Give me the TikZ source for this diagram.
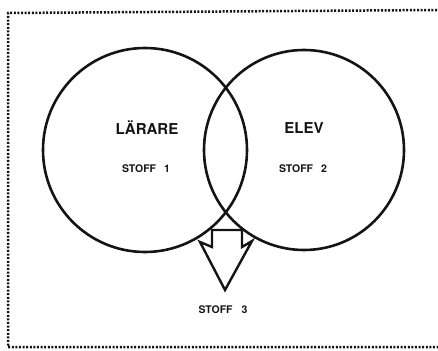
\documentclass[tikz,border=0pt]{standalone}
\usepackage{fontspec}
\setmainfont{TeX Gyre Heros}
\usetikzlibrary{positioning}
\definecolor{ink}{RGB}{20,20,20}

\begin{document}
\begin{tikzpicture}[x=1pt,y=-1pt,
  ring/.style={circle,draw=ink,line width=2.6pt,minimum size=204pt,inner sep=0pt},
  who/.style={font=\fontsize{15}{15}\selectfont\bfseries,text=ink},
  stuff/.style={font=\fontsize{10.5}{10.5}\selectfont\bfseries,text=ink}]
\useasboundingbox (0,0) rectangle (438,350);
% dotted frame, open on the right
\draw[ink,line width=2.5pt,dash pattern=on 2pt off 1.6pt] (437,10) -- (8,13) -- (8,347) -- (438,347);
\node[ring] (larare) at (145,150) {};
\node[ring,minimum size=200pt] (elev) at (304,150) {};
\node[who] (lname) at (147,128) {LÄRARE};
\node[who] (ename) at (304,128) {ELEV};
\node[stuff] (s1) at (146,169) {STOFF\hspace{8pt}1};
\node[stuff] (s2) at (303,169) {STOFF\hspace{8pt}2};
% hollow arrow out of the overlap
\draw[ink,line width=2.4pt,line join=miter] (212,230) -- (242,230) -- (242,247) -- (252,241)
  -- (225,290) -- (200,242) -- (212,247) -- cycle;
\node[stuff] (s3) at (223,310) {STOFF\hspace{9pt}3};
\end{tikzpicture}
\end{document}
